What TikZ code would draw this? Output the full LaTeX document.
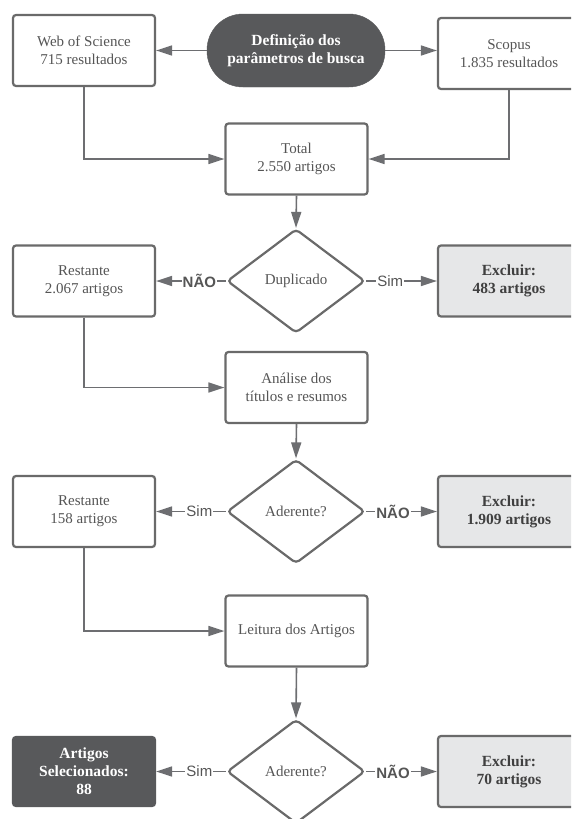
\documentclass[tikz,border=0pt]{standalone}
\usepackage{tikz}
\usepackage{fontspec}
\usetikzlibrary{arrows.meta,shapes.geometric}
\setmainfont{Liberation Serif}
\newfontfamily\lblfont{Liberation Sans}
\definecolor{linegray}{HTML}{6D6E71}
\definecolor{edgegray}{HTML}{6A6A6A}
\definecolor{darkfill}{HTML}{58595B}
\definecolor{lightfill}{HTML}{E6E7E8}
\definecolor{txtgray}{HTML}{555555}
\tikzset{
	whitebox/.style={draw=edgegray, line width=2.2pt, rounded corners=3pt, fill=white,
		minimum width=142pt, minimum height=71pt, align=center, text=txtgray,
		font=\fontsize{15}{18}\selectfont},
	outbox/.style={whitebox, fill=lightfill, text=black!75, font=\fontsize{15.5}{18}\selectfont\bfseries},
	finalbox/.style={whitebox, draw=darkfill, fill=darkfill, minimum height=69pt, text=white,
		font=\fontsize{15.5}{18}\selectfont\bfseries},
	pill/.style={draw=darkfill, fill=darkfill, rounded corners=36pt, minimum width=178pt,
		minimum height=73pt, align=center, text=white, font=\fontsize{15.5}{18}\selectfont\bfseries},
	decision/.style={diamond, draw=edgegray, line width=2.2pt, rounded corners=4pt, fill=white,
		minimum width=138pt, minimum height=104pt, inner sep=0pt, text=txtgray,
		font=\fontsize{15}{18}\selectfont},
	conn/.style={draw=linegray, line width=1.6pt, -{Triangle[length=16pt,width=10pt]}},
	lbl/.style={fill=white, inner sep=1pt, text=txtgray, font=\lblfont\fontsize{15}{18}\selectfont}
}

\begin{document}
\begin{tikzpicture}[x=1pt, y=-1pt]

	\useasboundingbox[fill=white] (0,0) rectangle (571,819);
	\clip (0,0) rectangle (571,819);

	\node[whitebox] (wos) at (84,50.5) {Web of Science\\715 resultados};
	\node[pill] (def) at (296,50.5) {Definição dos\\parâmetros de busca};
	\node[whitebox] (scopus) at (509,53.5) {Scopus\\1.835 resultados};
	\node[whitebox] (total) at (296.5,159) {Total\\2.550 artigos};

	\node[decision] (dup) at (296,281) {Duplicado};
	\node[whitebox] (rest1) at (84,281) {Restante\\2.067 artigos};
	\node[outbox] (exc1) at (509,281) {Excluir:\\483 artigos};
	\node[whitebox] (analise) at (296.5,387.5) {Análise dos\\títulos e resumos};

	\node[decision] (ader1) at (296,511.5) {Aderente?};
	\node[whitebox] (rest2) at (84,511.5) {Restante\\158 artigos};
	\node[outbox] (exc2) at (509,511.5) {Excluir:\\1.909 artigos};
	\node[whitebox] (leitura) at (296.5,631) {Leitura dos Artigos};

	\node[decision] (ader2) at (296,771.5) {Aderente?};
	\node[finalbox] (sel) at (84,771.5) {Artigos\\Selecionados:\\88};
	\node[outbox] (exc3) at (509,771.5) {Excluir:\\70 artigos};

	\draw[conn] (def.west) -- (wos.east);
	\draw[conn] (def.east) -- (def.east -| scopus.west);
	\draw[conn] (wos.south) |- (total.west);
	\draw[conn] (scopus.south) |- (total.east);
	\draw[conn] (total.south) -- (dup.north);

	\draw[conn] (dup.west) -- node[lbl, pos=0.38] {\bfseries NÃO} (rest1.east);
	\draw[conn] (dup.east) -- node[lbl, pos=0.34] {Sim} (exc1.west);
	\draw[conn] (rest1.south) |- (analise.west);
	\draw[conn] (analise.south) -- (ader1.north);

	\draw[conn] (ader1.west) -- node[lbl, pos=0.38] {Sim} (rest2.east);
	\draw[conn] (ader1.east) -- node[lbl, pos=0.38] {\bfseries NÃO} (exc2.west);
	\draw[conn] (rest2.south) |- (leitura.west);
	\draw[conn] (leitura.south) -- (ader2.north);

	\draw[conn] (ader2.west) -- node[lbl, pos=0.38] {Sim} (sel.east);
	\draw[conn] (ader2.east) -- node[lbl, pos=0.38] {\bfseries NÃO} (exc3.west);

\end{tikzpicture}
\end{document}
